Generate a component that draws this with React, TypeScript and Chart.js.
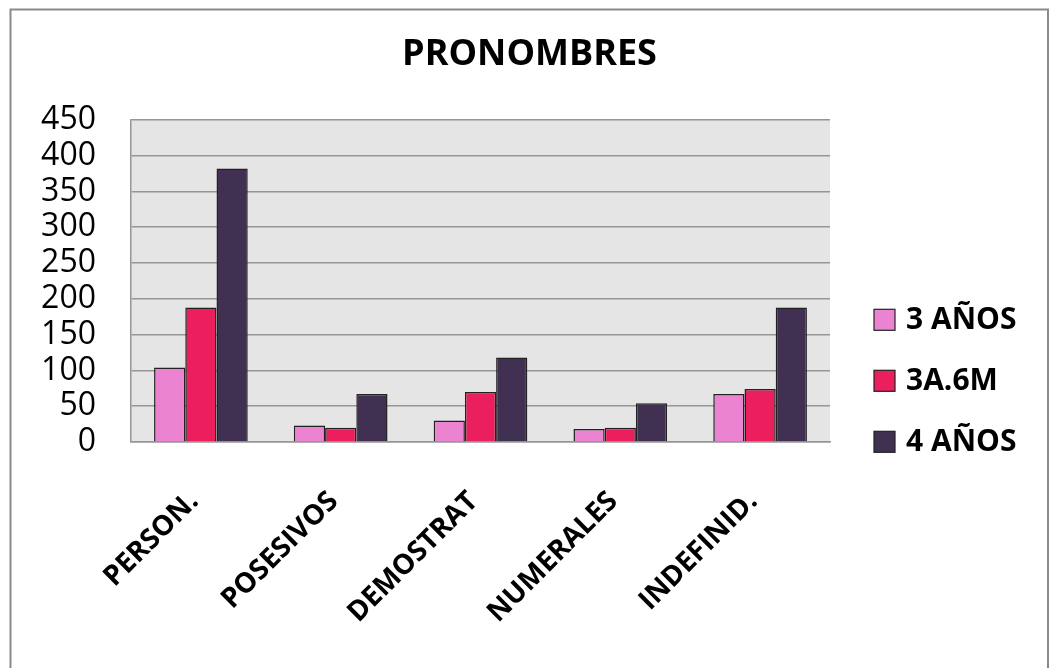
import React, { useEffect, useRef } from "react";
import { Chart, registerables } from "chart.js";

Chart.register(...registerables);

const TITLE = "PRONOMBRES";
const categories = ["PERSON.", "POSESIVOS", "DEMOSTRAT", "NUMERALES", "INDEFINID."];
const seriesNames = ["3 AÑOS", "3A.6M", "4 AÑOS"];
const tresAnos = [104, 23, 30, 18, 67];
const tresA6M = [188, 20, 70, 20, 74];
const cuatroAnos = [382, 67, 118, 54, 188];
const seriesColors = ["#EB83D1", "#EC1F5E", "#403052"];
const yMax = 450;
const yStep = 50;

const FONT = "'Open Sans', 'DejaVu Sans', sans-serif";

const backgroundPlugin = {
  id: "plotBackground",
  beforeDraw(chart: any) {
    const { ctx, chartArea } = chart;
    ctx.save();
    ctx.fillStyle = "#FFFFFF";
    ctx.fillRect(0, 0, chart.width, chart.height);
    ctx.strokeStyle = "#8A8A8A";
    ctx.lineWidth = 2;
    ctx.beginPath();
    ctx.moveTo(10.5, chart.height + 5);
    ctx.lineTo(10.5, 9.5);
    ctx.lineTo(1048, 9.5);
    ctx.lineTo(1048, chart.height + 5);
    ctx.stroke();
    ctx.fillStyle = "#E5E5E5";
    ctx.fillRect(chartArea.left, chartArea.top, chartArea.right - chartArea.left, chartArea.bottom - chartArea.top);
    ctx.restore();
  },
};

const legendPlugin = {
  id: "customLegend",
  afterDraw(chart: any) {
    const { ctx, chartArea } = chart;
    const datasets = chart.data.datasets;
    const boxX = chartArea.right + 44;
    const box = 21;
    const rowGap = 61;
    const firstY = chartArea.top + 200;
    ctx.save();
    ctx.font = `bold 30px ${FONT}`;
    ctx.textBaseline = "middle";
    ctx.textAlign = "left";
    datasets.forEach((ds: any, i: number) => {
      const cy = firstY + i * rowGap;
      ctx.fillStyle = ds.backgroundColor;
      ctx.fillRect(boxX, cy - box / 2, box, box);
      ctx.strokeStyle = "#222222";
      ctx.lineWidth = 1.2;
      ctx.strokeRect(boxX, cy - box / 2, box, box);
      ctx.fillStyle = "#000000";
      ctx.fillText(ds.label, boxX + box + 11, cy + 1);
    });
    ctx.restore();
  },
};

export default function App() {
  const canvasRef = useRef<HTMLCanvasElement | null>(null);

  useEffect(() => {
    if (!canvasRef.current) return;
    const values = [tresAnos, tresA6M, cuatroAnos];
    const chart = new Chart(canvasRef.current, {
      type: "bar",
      data: {
        labels: categories,
        datasets: seriesNames.map((name, i) => ({
          label: name,
          data: values[i],
          backgroundColor: seriesColors[i],
          borderColor: "#222222",
          borderWidth: 1.5,
          barPercentage: 1,
          categoryPercentage: 0.67,
          yAxisID: "y",
        })),
      },
      options: {
        responsive: false,
        animation: false,
        devicePixelRatio: 1,
        layout: { padding: { left: 10, right: 0, top: 0, bottom: 0 } },
        plugins: {
          legend: { display: false },
          tooltip: { enabled: false },
          title: {
            display: true,
            text: TITLE,
            color: "#000000",
            font: { family: FONT, size: 36, weight: "bold", lineHeight: 1.2 },
            padding: { top: 33, bottom: 43.6 },
          },
        },
        scales: {
          x: {
            grid: { display: false, drawTicks: false },
            border: { display: true, color: "#969696", width: 1.5 },
            ticks: {
              autoSkip: false,
              maxRotation: 45,
              minRotation: 45,
              padding: 43,
              labelOffset: -7,
              color: "#000000",
              font: { family: FONT, size: 28, weight: "bold", lineHeight: 1.2 },
            },
            afterFit(scale: any) {
              scale.height = 226;
            },
          },
          y: {
            position: "left",
            min: 0,
            max: yMax,
            grid: { color: "#969696", lineWidth: 1.5, drawTicks: false },
            border: { display: true, color: "#969696", width: 1.5 },
            ticks: {
              stepSize: yStep,
              autoSkip: false,
              padding: 35,
              color: "#000000",
              font: { family: FONT, size: 32, lineHeight: 1 },
            },
            afterFit(scale: any) {
              scale.width = 121;
            },
          },
          legendSpace: {
            type: "linear",
            position: "right",
            min: 0,
            max: 1,
            grid: { display: false, drawTicks: false },
            border: { display: false },
            ticks: { display: false },
            afterFit(scale: any) {
              scale.width = 219;
            },
          },
        },
      },
      plugins: [backgroundPlugin, legendPlugin],
    });
    return () => chart.destroy();
  }, []);

  return (
    <div style={{ position: "fixed", left: 0, top: 0, width: 1049, height: 668, background: "#fff" }}>
      <canvas ref={canvasRef} width={1049} height={668} style={{ display: "block", width: 1049, height: 668 }} />
    </div>
  );
}
